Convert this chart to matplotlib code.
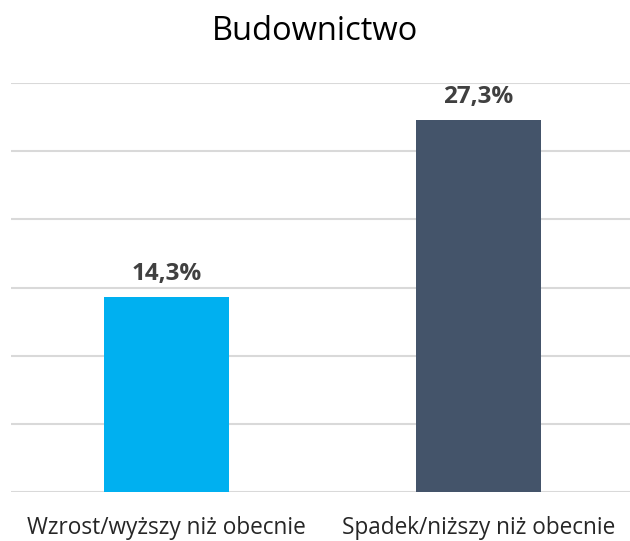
import numpy as np
import matplotlib.pyplot as plt

categories = ["Wzrost/wyższy niż obecnie", "Spadek/niższy niż obecnie"]
values = [14.3, 27.3]
value_labels = ["14,3%", "27,3%"]
colors = ["#00B0F0", "#44546A"]

plt.rcParams['font.family'] = ['Open Sans', 'DejaVu Sans']

fig = plt.figure(figsize=(6.3, 5.41), dpi=100)
# axes spans a bit past the right edge, like the original
ax = fig.add_axes([10.5 / 630, 49 / 541, 624 / 630, 409 / 541])

x = np.arange(len(categories))
bars = ax.bar(x, values, width=0.4, color=colors, zorder=3)

ax.set_xlim(-0.5, 1.5)
ax.set_ylim(0, 30)
ax.set_yticks(np.arange(0, 31, 5))
ax.yaxis.grid(True, color="#D9D9D9", linewidth=1.5, zorder=0)
ax.tick_params(axis='both', length=0)
ax.set_yticklabels([])
ax.set_xticks(x)
ax.set_xticklabels(categories, fontsize=16.3, color="#262626")
ax.tick_params(axis='x', pad=17)
for s in ax.spines.values():
    s.set_visible(False)

for b, lab in zip(bars, value_labels):
    ax.annotate(lab, (b.get_x() + b.get_width() / 2, b.get_height()),
                xytext=(0, 8), textcoords='offset points',
                ha='center', va='bottom', fontsize=17.5, fontweight='bold',
                color="#404040")

fig.text(0.5, 1 - 31 / 541, "Budownictwo", ha='center', va='center',
         fontsize=23.5, color="#000000")

fig.savefig("out.png", dpi=100)
